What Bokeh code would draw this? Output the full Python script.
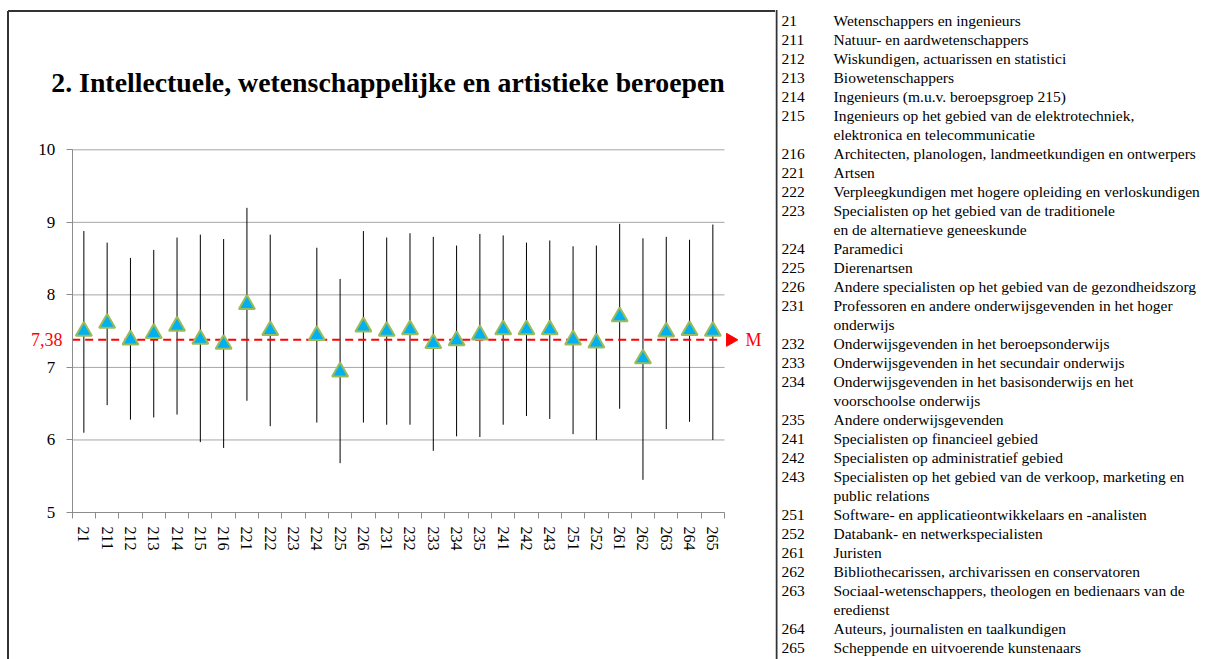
import math
from bokeh.plotting import figure
from bokeh.layouts import row
from bokeh.models import Range1d, FixedTicker, ColumnDataSource
from bokeh.core.properties import value
from bokeh.embed import file_html
from bokeh.resources import INLINE

# ---------------- data ----------------
categories = ["21", "211", "212", "213", "214", "215", "216", "221", "222", "223",
              "224", "225", "226", "231", "232", "233", "234", "235", "241", "242",
              "243", "251", "252", "261", "262", "263", "264", "265"]
means = [7.50, 7.61, 7.38, 7.47, 7.57, 7.39, 7.32, 7.87, 7.51, None,
         7.44, 6.94, 7.56, 7.50, 7.52, 7.33, 7.37, 7.45, 7.52, 7.52,
         7.52, 7.38, 7.34, 7.70, 7.12, 7.49, 7.51, 7.50]
highs = [8.88, 8.72, 8.51, 8.62, 8.79, 8.83, 8.77, 9.20, 8.83, None,
         8.65, 8.22, 8.88, 8.79, 8.85, 8.80, 8.68, 8.84, 8.82, 8.72,
         8.75, 8.67, 8.68, 8.98, 8.78, 8.80, 8.76, 8.97]
lows = [6.10, 6.48, 6.28, 6.31, 6.35, 5.97, 5.89, 6.54, 6.19, None,
        6.24, 5.68, 6.24, 6.21, 6.21, 5.85, 6.05, 6.04, 6.21, 6.33,
        6.29, 6.08, 6.00, 6.43, 5.45, 6.15, 6.25, 6.00]
overall_mean = 7.38
mean_label = "7,38"
mean_marker_label = "M"
y_ticks = [5, 6, 7, 8, 9, 10]
title_text = "2. Intellectuele, wetenschappelijke  en artistieke beroepen"
descriptions = [
    "Wetenschappers en ingenieurs",
    "Natuur-  en aardwetenschappers",
    "Wiskundigen,  actuarissen en statistici",
    "Biowetenschappers",
    "Ingenieurs  (m.u.v. beroepsgroep 215)",
    "Ingenieurs  op het gebied van de elektrotechniek,\nelektronica  en telecommunicatie",
    "Architecten,  planologen,  landmeetkundigen  en ontwerpers",
    "Artsen",
    "Verpleegkundigen  met hogere opleiding en verloskundigen",
    "Specialisten  op het gebied van de traditionele\nen de alternatieve  geneeskunde",
    "Paramedici",
    "Dierenartsen",
    "Andere specialisten  op het gebied van de gezondheidszorg",
    "Professoren en andere onderwijsgevenden  in het hoger\nonderwijs",
    "Onderwijsgevenden  in het beroepsonderwijs",
    "Onderwijsgevenden  in het secundair onderwijs",
    "Onderwijsgevenden  in het basisonderwijs en het\nvoorschoolse onderwijs",
    "Andere onderwijsgevenden",
    "Specialisten  op financieel  gebied",
    "Specialisten  op administratief  gebied",
    "Specialisten  op het gebied van de verkoop, marketing  en\npublic  relations",
    "Software-  en applicatieontwikkelaars  en -analisten",
    "Databank-  en netwerkspecialisten",
    "Juristen",
    "Bibliothecarissen,  archivarissen  en conservatoren",
    "Sociaal-wetenschappers,  theologen en bedienaars van de\neredienst",
    "Auteurs,  journalisten  en taalkundigen",
    "Scheppende en uitvoerende  kunstenaars",
]

SERIF = "Liberation Serif"
n = len(categories)

# ---------------- layout (page pixels) ----------------
W1, H = 775, 659          # chart panel
W2 = 1208 - W1            # table panel
PLOT_L, PLOT_R, PLOT_T, PLOT_B = 71.7, 724.0, 149.3, 512.0
Y_LO, Y_HI = y_ticks[0], y_ticks[-1]
xs = (PLOT_R - PLOT_L) / n
ys = (PLOT_B - PLOT_T) / (Y_HI - Y_LO)


def px2x(px):
    return (px - PLOT_L) / xs


def px2y(py):
    return Y_HI + (PLOT_T - py) / ys


# ---------------- chart ----------------
p = figure(width=W1, height=H, output_backend="svg", toolbar_location=None,
           x_range=Range1d(px2x(0), px2x(W1)), y_range=Range1d(px2y(H), px2y(0)),
           min_border=0)
p.outline_line_color = None
p.background_fill_color = "white"
p.border_fill_color = "white"

xc = [i + 0.5 for i in range(n)]
idx = [i for i in range(n) if means[i] is not None]
src = ColumnDataSource(dict(
    x=[xc[i] for i in idx],
    m=[means[i] for i in idx],
    lo=[lows[i] for i in idx],
    hi=[highs[i] for i in idx],
))

# horizontal gridlines limited to the plotting area
p.xgrid.grid_line_color = None
p.ygrid.grid_line_color = None
p.segment(x0=[0] * len(y_ticks), y0=y_ticks, x1=[n] * len(y_ticks), y1=y_ticks,
          line_color="#a6a6a6", line_width=1)

# x axis (fixed at the bottom of the plotting area)
p.xaxis.fixed_location = Y_LO
p.xaxis.bounds = (0, n)
p.xaxis.ticker = FixedTicker(ticks=xc, minor_ticks=list(range(n + 1)))
p.xaxis.major_label_overrides = {xc[i]: categories[i] for i in range(n)}
p.xaxis.major_label_orientation = "vertical"
p.xaxis.major_tick_out = 0
p.xaxis.major_tick_in = 0
p.xaxis.minor_tick_out = 6
p.xaxis.minor_tick_in = 0
p.xaxis.minor_tick_line_color = "#8c8c8c"
p.xaxis.axis_line_color = "#8c8c8c"
p.xaxis.major_label_text_font = SERIF
p.xaxis.major_label_text_font_size = "16px"
p.xaxis.major_label_text_color = "black"
p.xaxis.major_label_standoff = 8

# y axis (fixed at the left of the plotting area)
p.yaxis.fixed_location = 0
p.yaxis.bounds = (Y_LO, Y_HI)
p.yaxis.ticker = FixedTicker(ticks=y_ticks)
p.yaxis.major_tick_out = 6
p.yaxis.major_tick_in = 0
p.yaxis.minor_tick_line_color = None
p.yaxis.major_tick_line_color = "#8c8c8c"
p.yaxis.axis_line_color = "#8c8c8c"
p.yaxis.major_label_text_font = SERIF
p.yaxis.major_label_text_font_size = "17px"
p.yaxis.major_label_text_color = "black"
p.yaxis.major_label_standoff = 11

# error bars
p.segment(x0="x", y0="lo", x1="x", y1="hi", source=src, line_color="black", line_width=1)

# overall mean: dashed line, arrow head, labels
p.segment(x0=[0], y0=[overall_mean], x1=[n - 0.1], y1=[overall_mean],
          line_color="#ff0000", line_dash="8 5", line_width=2)
p.scatter(x=[n + 0.25], y=[overall_mean], marker="triangle", size=13,
          angle=-math.pi / 2, fill_color="#ff0000", line_color="#ff0000")
p.text(x=[px2x(62)], y=[overall_mean], text=[mean_label], text_align="right",
       text_baseline="middle", text_color="#ff0000",
       text_font=value(SERIF), text_font_size="18px")
p.text(x=[n + 0.9], y=[overall_mean], text=[mean_marker_label], text_align="left",
       text_baseline="middle", text_color="#ff0000",
       text_font=value(SERIF), text_font_size="18px")

# markers
p.scatter(x="x", y="m", source=src, marker="triangle", size=16,
          fill_color="#00b0f0", line_color="#9bbb59", line_width=2)

# title
p.text(x=[px2x(391)], y=[px2y(82)], text=[title_text], text_align="center",
       text_baseline="middle", text_color="black", text_font=value(SERIF),
       text_font_style="bold", text_font_size="27.8px")

# chart box border (top and left)
p.segment(x0=[px2x(7.5)], y0=[px2y(10.5)], x1=[px2x(W1)], y1=[px2y(10.5)],
          line_color="#333333", line_width=2)
p.segment(x0=[px2x(7.5)], y0=[px2y(10.5)], x1=[px2x(7.5)], y1=[px2y(H)],
          line_color="#333333", line_width=2)

# ---------------- legend table ----------------
t = figure(width=W2, height=H, output_backend="svg", toolbar_location=None,
           x_range=Range1d(0, W2), y_range=Range1d(H, 0),
           min_border=0, x_axis_type=None, y_axis_type=None)
t.outline_line_color = None
t.grid.visible = False

line_h = 19.0
top_row = 20.0
codes_x, codes_y, codes_t = [], [], []
desc_x, desc_y, desc_t = [], [], []
k = 0
for c, d in zip(categories, descriptions):
    codes_x.append(6); codes_y.append(top_row + k * line_h); codes_t.append(c)
    for part in d.split("\n"):
        desc_x.append(58); desc_y.append(top_row + k * line_h); desc_t.append(part)
        k += 1

t.text(x=codes_x, y=codes_y, text=codes_t, text_font=value(SERIF),
       text_font_size="15.5px", text_baseline="middle", text_color="black")
t.text(x=desc_x, y=desc_y, text=desc_t, text_font=value(SERIF),
       text_font_size="15.5px", text_baseline="middle", text_color="black")
t.segment(x0=[1], y0=[9.5], x1=[1], y1=[H], line_color="#333333", line_width=2)

layout = row(p, t)
open("out.html", "w").write(file_html(layout, INLINE))
